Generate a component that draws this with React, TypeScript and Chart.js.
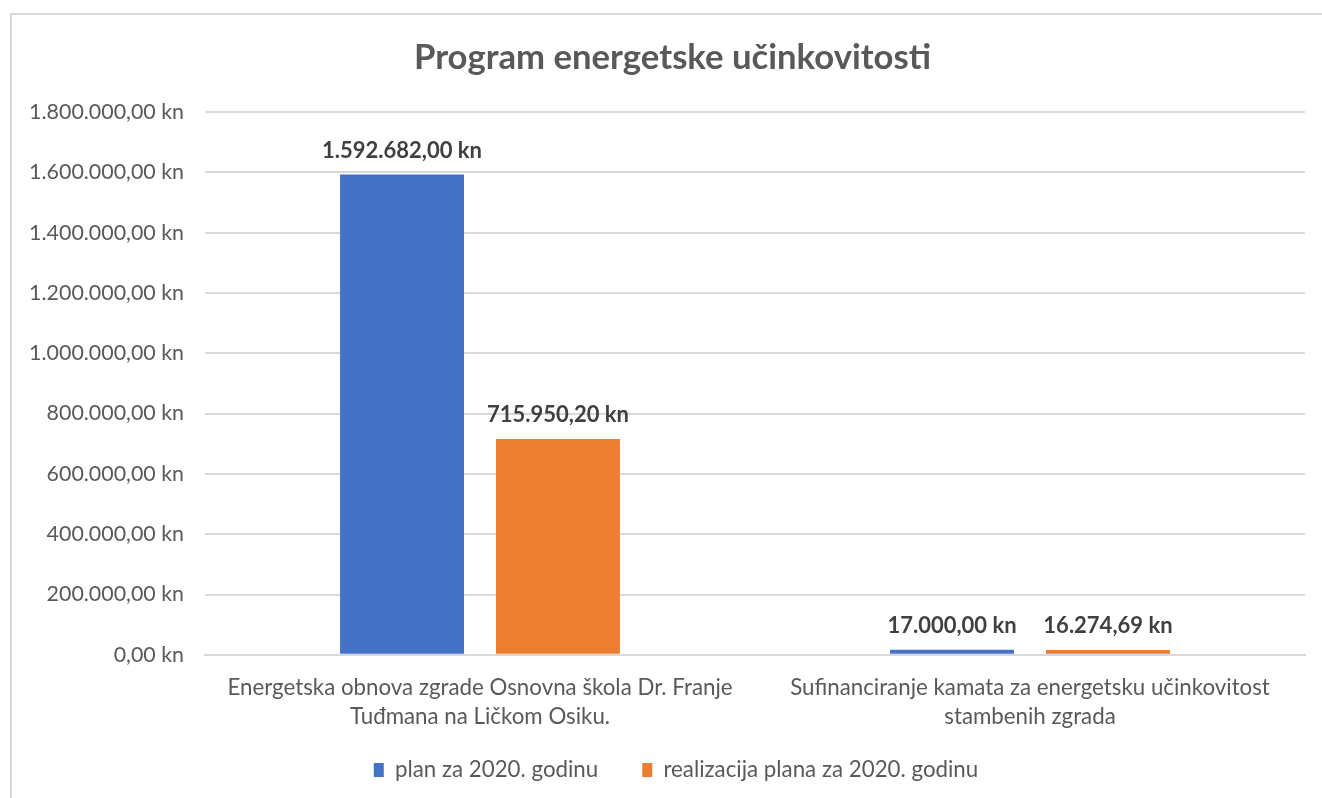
import React, { useEffect, useRef } from "react";
import { Chart, registerables } from "chart.js";

Chart.register(...registerables);

const titleText = "Program energetske učinkovitosti";
const categories: string[][] = [
  ["Energetska obnova zgrade Osnovna škola Dr. Franje", "Tuđmana na Ličkom Osiku."],
  ["Sufinanciranje kamata za energetsku učinkovitost", "stambenih zgrada"],
];
const seriesNames = ["plan za 2020. godinu", "realizacija plana za 2020. godinu"];
const planValues = [1592682.0, 17000.0];
const realValues = [715950.2, 16274.69];
const yMin = 0;
const yMax = 1800000;
const yStep = 200000;

const BLUE = "#4472C4";
const ORANGE = "#ED7D31";
const GRID = "#D9D9D9";
const AXIS_TEXT = "#595959";
const LABEL_TEXT = "#404040";
const FONT = "Lato, 'Open Sans', sans-serif";

function formatKn(v: number): string {
  const fixed = v.toFixed(2);
  const [intPart, dec] = fixed.split(".");
  const withDots = intPart.replace(/\B(?=(\d{3})+(?!\d))/g, ".");
  return `${withDots},${dec} kn`;
}

const dataLabelPlugin = {
  id: "dataLabels",
  afterDatasetsDraw(chart: any) {
    const ctx = chart.ctx;
    ctx.save();
    ctx.font = `bold 22px ${FONT}`;
    ctx.fillStyle = LABEL_TEXT;
    ctx.textAlign = "center";
    ctx.textBaseline = "middle";
    chart.data.datasets.forEach((ds: any, di: number) => {
      const meta = chart.getDatasetMeta(di);
      meta.data.forEach((el: any, i: number) => {
        const v = ds.data[i] as number;
        ctx.fillText(formatKn(v), el.x, el.y - 24);
      });
    });
    ctx.restore();
  },
};

// The original chart frame extends past the right edge of the picture,
// so the title and legend are centred a little to the right of the canvas centre.
const centreShiftPlugin = {
  id: "centreShift",
  afterLayout(chart: any) {
    if (chart.titleBlock) chart.titleBlock.left += 40;
    if (chart.legend) chart.legend.left += 47;
  },
};

export default function App() {
  const ref = useRef<HTMLCanvasElement | null>(null);

  useEffect(() => {
    document.body.style.margin = "0";
    const canvas = ref.current;
    if (!canvas) return;
    const chart = new Chart(canvas, {
      type: "bar",
      data: {
        labels: categories,
        datasets: [
          {
            label: seriesNames[0],
            data: planValues,
            backgroundColor: BLUE,
            categoryPercentage: 0.567,
            barPercentage: 0.795,
          },
          {
            label: seriesNames[1],
            data: realValues,
            backgroundColor: ORANGE,
            categoryPercentage: 0.567,
            barPercentage: 0.795,
          },
        ],
      },
      options: {
        animation: false,
        responsive: false,
        devicePixelRatio: 1,
        layout: { padding: { left: 0, right: 17, top: 0, bottom: 6.85 } },
        scales: {
          x: {
            grid: { display: false, drawTicks: false },
            border: { display: true, color: GRID, width: 2 },
            ticks: {
              color: AXIS_TEXT,
              font: { family: FONT, size: 22.3, lineHeight: 1.3 },
              mirror: true,
              padding: -47.5,
              maxRotation: 0,
              autoSkip: false,
            },
            afterFit(scale: any) {
              scale.height = 60;
            },
          },
          y: {
            min: yMin,
            max: yMax,
            border: { display: false },
            grid: { color: GRID, lineWidth: 2, drawTicks: false },
            ticks: {
              stepSize: yStep,
              color: AXIS_TEXT,
              font: { family: FONT, size: 21.4 },
              padding: 21,
              callback: (v: any) => formatKn(Number(v)),
            },
            afterFit(scale: any) {
              scale.width = 205;
            },
          },
        },
        plugins: {
          title: {
            display: true,
            text: titleText,
            color: AXIS_TEXT,
            font: { family: FONT, size: 34.7, weight: "bold", lineHeight: 1.2 },
            padding: { top: 37.2, bottom: 33.2 },
          },
          legend: {
            position: "bottom",
            labels: {
              color: AXIS_TEXT,
              font: { family: FONT, size: 22.3 },
              boxWidth: 10,
              boxHeight: 14,
              padding: 44,
            },
          },
          tooltip: { enabled: false },
        },
      },
      plugins: [dataLabelPlugin, centreShiftPlugin],
    } as any);
    return () => chart.destroy();
  }, []);

  return (
    <div
      style={{
        position: "absolute",
        left: 0,
        top: 0,
        width: 1322,
        height: 798,
        background: "#fff",
        overflow: "hidden",
      }}
    >
      <div
        style={{
          position: "absolute",
          left: 10,
          top: 13,
          width: 1400,
          height: 900,
          borderLeft: "2px solid #D9D9D9",
          borderTop: "2px solid #D9D9D9",
        }}
      />
      <canvas
        ref={ref}
        width={1322}
        height={798}
        style={{ position: "absolute", left: 0, top: 0, width: 1322, height: 798 }}
      />
    </div>
  );
}
